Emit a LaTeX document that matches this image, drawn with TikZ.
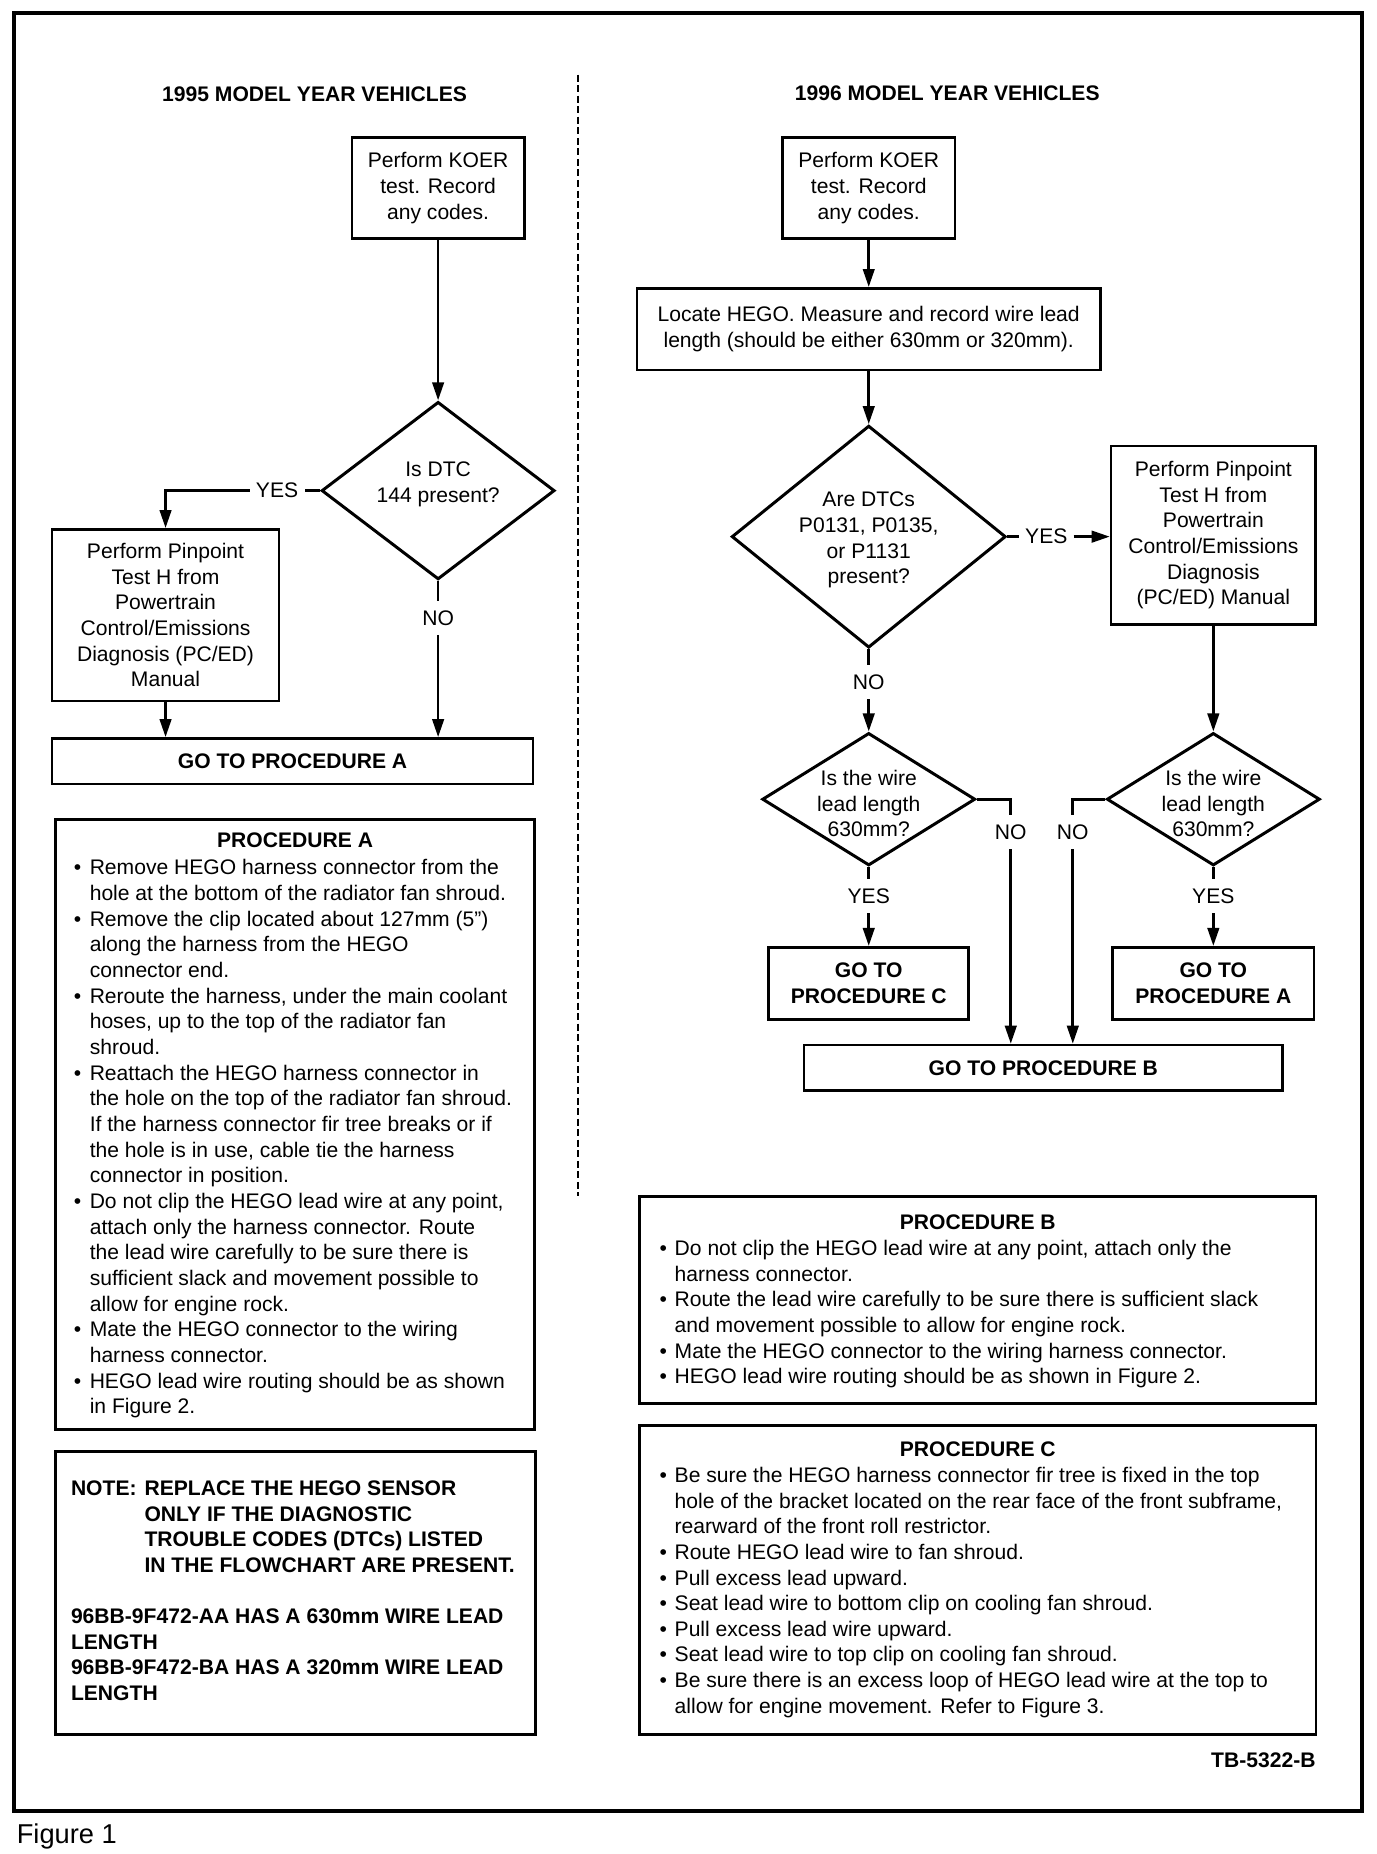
\documentclass[tikz,border=0pt]{standalone}
\usepackage{fontspec}
\setmainfont{Liberation Sans}
\usepackage{tikz}
\usetikzlibrary{arrows.meta,positioning,shapes.geometric}

\begin{document}
\begin{tikzpicture}[
  font=\fontsize{12}{14.6}\selectfont,
  line width=1.5pt,
  box/.style={draw, align=center, inner sep=0pt},
  goto/.style={box, font=\fontsize{12}{14.6}\selectfont\bfseries},
  dia/.style={draw, diamond, inner sep=0pt, line width=1.7pt},
  arr/.style={-{Triangle[length=3.6mm, width=2.3mm]}},
  lbl/.style={inner xsep=1mm, inner ysep=0pt, minimum height=6.2mm},
  hd/.style={font=\fontsize{12}{14.6}\selectfont\bfseries, inner sep=0pt},
  lst/.style={anchor=base west, inner sep=0pt}
]
  \useasboundingbox (0,0) rectangle (27.52,-37.07);
  \draw[line width=2.2pt] (0.28,-0.26) rectangle (27.24,-36.21);
  \node[anchor=base west, inner sep=0pt, font=\fontsize{15.5}{18}\selectfont] (figlbl) at (0.31,-36.85) {Figure 1};

  % separator
  \coordinate (sepT) at (11.56,-1.49);
  \coordinate (sepB) at (11.56,-23.92);
  \draw[line width=1.1pt, dash pattern=on 4pt off 2pt] (sepT) -- (sepB);

  % 1995 column
  \node[hd] (hdL) at (6.29,-1.89) {1995 MODEL YEAR VEHICLES};
  \node[box, minimum width=3.45cm, minimum height=2.03cm] (koerL) at (8.76,-3.76) {Perform KOER\\test. Record\\any codes.};
  \node[dia, minimum width=4.66cm, minimum height=3.55cm] (d1L) at (8.76,-9.81) {};
  \node[align=center, inner sep=0pt] (d1Lt) at (8.76,-9.68) {Is DTC\\144 present?};
  \node[lbl] (yesL) at (5.54,-9.81) {YES};
  \node[box, minimum width=4.54cm, minimum height=3.43cm] (pinL) at (3.31,-12.30) {Perform Pinpoint\\Test H from\\Powertrain\\Control/Emissions\\Diagnosis (PC/ED)\\Manual};
  \node[lbl] (noL) at (8.76,-12.36) {NO};
  \node[goto, minimum width=9.62cm, minimum height=0.91cm] (gotoAL) at (5.85,-15.22) {GO TO PROCEDURE A};

  \draw[arr] (koerL.south) -- (d1L.north);
  \draw (d1L.west) -- (yesL.east);
  \draw[arr] (yesL.west) -| (pinL.north);
  \draw[arr] (pinL.south) -- (pinL.south |- gotoAL.north);
  \draw[arr] (noL.south) -- (noL.south |- gotoAL.north);

  % 1996 column
  \node[hd] (hdR) at (18.94,-1.87) {1996 MODEL YEAR VEHICLES};
  \node[box, minimum width=3.45cm, minimum height=2.03cm] (koerR) at (17.37,-3.76) {Perform KOER\\test. Record\\any codes.};
  \node[box, minimum width=9.27cm, minimum height=1.63cm] (locate) at (17.37,-6.58) {Locate HEGO. Measure and record wire lead\\length (should be either 630mm or 320mm).};
  \node[dia, minimum width=5.48cm, minimum height=4.44cm] (d1R) at (17.37,-10.73) {};
  \node[align=center, inner sep=0pt] (d1Rt) at (17.37,-10.80) {Are DTCs\\P0131, P0135,\\or P1131\\present?};
  \node[lbl] (yesR) at (20.92,-10.73) {YES};
  \node[box, minimum width=4.09cm, minimum height=3.57cm] (pinR) at (24.26,-10.70) {Perform Pinpoint\\Test H from\\Powertrain\\Control/Emissions\\Diagnosis\\(PC/ED) Manual};
  \node[lbl] (noR1) at (17.37,-13.64) {NO};
  \node[dia, minimum width=4.26cm, minimum height=2.65cm] (d2) at (17.37,-15.98) {};
  \node[align=center, inner sep=0pt] (d2t) at (17.37,-16.07) {Is the wire\\lead length\\630mm?};
  \node[dia, minimum width=4.26cm, minimum height=2.65cm] (d3) at (24.26,-15.98) {};
  \node[align=center, inner sep=0pt] (d3t) at (24.26,-16.07) {Is the wire\\lead length\\630mm?};
  \node[lbl] (no2) at (20.21,-16.64) {NO};
  \node[lbl] (no3) at (21.45,-16.64) {NO};
  \node[lbl] (yes2) at (17.37,-17.92) {YES};
  \node[lbl] (yes3) at (24.26,-17.92) {YES};
  \node[goto, minimum width=4.00cm, minimum height=1.44cm] (gotoC) at (17.37,-19.66) {GO TO\\PROCEDURE C};
  \node[goto, minimum width=4.02cm, minimum height=1.44cm] (gotoAR) at (24.26,-19.66) {GO TO\\PROCEDURE A};
  \node[goto, minimum width=9.57cm, minimum height=0.91cm] (gotoB) at (20.86,-21.35) {GO TO PROCEDURE B};

  \draw[arr] (koerR.south) -- (locate.north);
  \draw[arr] (locate.south) -- (d1R.north);
  \draw (d1R.east) -- (yesR.west);
  \draw[arr] (yesR.east) -- (yesR.east -| pinR.west);
  \draw[arr] (noR1.south) -- (d2.north);
  \draw[arr] (pinR.south) -- (d3.north);
  \draw (d2.east) -| (no2.north);
  \draw (d3.west) -| (no3.north);
  \draw[arr] (no2.south) -- (no2.south |- gotoB.north);
  \draw[arr] (no3.south) -- (no3.south |- gotoB.north);
  \draw[arr] (yes2.south) -- (gotoC.north);
  \draw[arr] (yes3.south) -- (gotoAR.north);

  % decision outlets
  \foreach \a/\b in {d1L/noL, d1R/noR1, d2/yes2, d3/yes3} {
    \draw (\a.south) -- (\b.north);
  }

  % procedures
  \node[box, minimum width=9.57cm, minimum height=12.20cm] (procA) at (5.90,-22.48) {};
  \node[hd, anchor=base] (procAhd) at ([yshift=-0.59cm]procA.north) {PROCEDURE A};
  \node[lst] (procAtx) at ([xshift=0.36cm, yshift=-1.14cm]procA.north west) {%
    \begin{tabular}[t]{@{}p{0.32cm}@{}l@{}}
      \textbullet & Remove HEGO harness connector from the\\
      & hole at the bottom of the radiator fan shroud.\\
      \textbullet & Remove the clip located about 127mm (5")\\
      & along the harness from the HEGO\\
      & connector end.\\
      \textbullet & Reroute the harness, under the main coolant\\
      & hoses, up to the top of the radiator fan\\
      & shroud.\\
      \textbullet & Reattach the HEGO harness connector in\\
      & the hole on the top of the radiator fan shroud.\\
      & If the harness connector fir tree breaks or if\\
      & the hole is in use, cable tie the harness\\
      & connector in position.\\
      \textbullet & Do not clip the HEGO lead wire at any point,\\
      & attach only the harness connector. Route\\
      & the lead wire carefully to be sure there is\\
      & sufficient slack and movement possible to\\
      & allow for engine rock.\\
      \textbullet & Mate the HEGO connector to the wiring\\
      & harness connector.\\
      \textbullet & HEGO lead wire routing should be as shown\\
      & in Figure 2.
    \end{tabular}};

  \node[box, minimum width=9.60cm, minimum height=5.65cm] (note) at (5.91,-31.85) {};
  \node[lst, hd] (notetx) at ([xshift=0.31cm, yshift=-0.90cm]note.north west) {%
    \begin{tabular}[t]{@{}p{1.47cm}@{}l@{}}
      NOTE: & REPLACE THE HEGO SENSOR\\
      & ONLY IF THE DIAGNOSTIC\\
      & TROUBLE CODES (DTCs) LISTED\\
      & IN THE FLOWCHART ARE PRESENT.\\[14.6pt]
      \multicolumn{2}{@{}l@{}}{96BB-9F472-AA HAS A 630mm WIRE LEAD}\\
      \multicolumn{2}{@{}l@{}}{LENGTH}\\
      \multicolumn{2}{@{}l@{}}{96BB-9F472-BA HAS A 320mm WIRE LEAD}\\
      \multicolumn{2}{@{}l@{}}{LENGTH}
    \end{tabular}};

  \node[box, minimum width=13.52cm, minimum height=4.14cm] (procB) at (19.55,-25.99) {};
  \node[hd, anchor=base] (procBhd) at ([yshift=-0.69cm]procB.north) {PROCEDURE B};
  \node[lst] (procBtx) at ([xshift=0.40cm, yshift=-1.21cm]procB.north west) {%
    \begin{tabular}[t]{@{}p{0.30cm}@{}l@{}}
      \textbullet & Do not clip the HEGO lead wire at any point, attach only the\\
      & harness connector.\\
      \textbullet & Route the lead wire carefully to be sure there is sufficient slack\\
      & and movement possible to allow for engine rock.\\
      \textbullet & Mate the HEGO connector to the wiring harness connector.\\
      \textbullet & HEGO lead wire routing should be as shown in Figure 2.
    \end{tabular}};

  \node[box, minimum width=13.52cm, minimum height=6.17cm] (procC) at (19.55,-31.59) {};
  \node[hd, anchor=base] (procChd) at ([yshift=-0.64cm]procC.north) {PROCEDURE C};
  \node[lst] (procCtx) at ([xshift=0.40cm, yshift=-1.16cm]procC.north west) {%
    \begin{tabular}[t]{@{}p{0.30cm}@{}l@{}}
      \textbullet & Be sure the HEGO harness connector fir tree is fixed in the top\\
      & hole of the bracket located on the rear face of the front subframe,\\
      & rearward of the front roll restrictor.\\
      \textbullet & Route HEGO lead wire to fan shroud.\\
      \textbullet & Pull excess lead upward.\\
      \textbullet & Seat lead wire to bottom clip on cooling fan shroud.\\
      \textbullet & Pull excess lead wire upward.\\
      \textbullet & Seat lead wire to top clip on cooling fan shroud.\\
      \textbullet & Be sure there is an excess loop of HEGO lead wire at the top to\\
      & allow for engine movement. Refer to Figure 3.
    \end{tabular}};

  \node[hd, anchor=east] (tbnum) at (26.33,-35.20) {TB-5322-B};
\end{tikzpicture}
\end{document}
